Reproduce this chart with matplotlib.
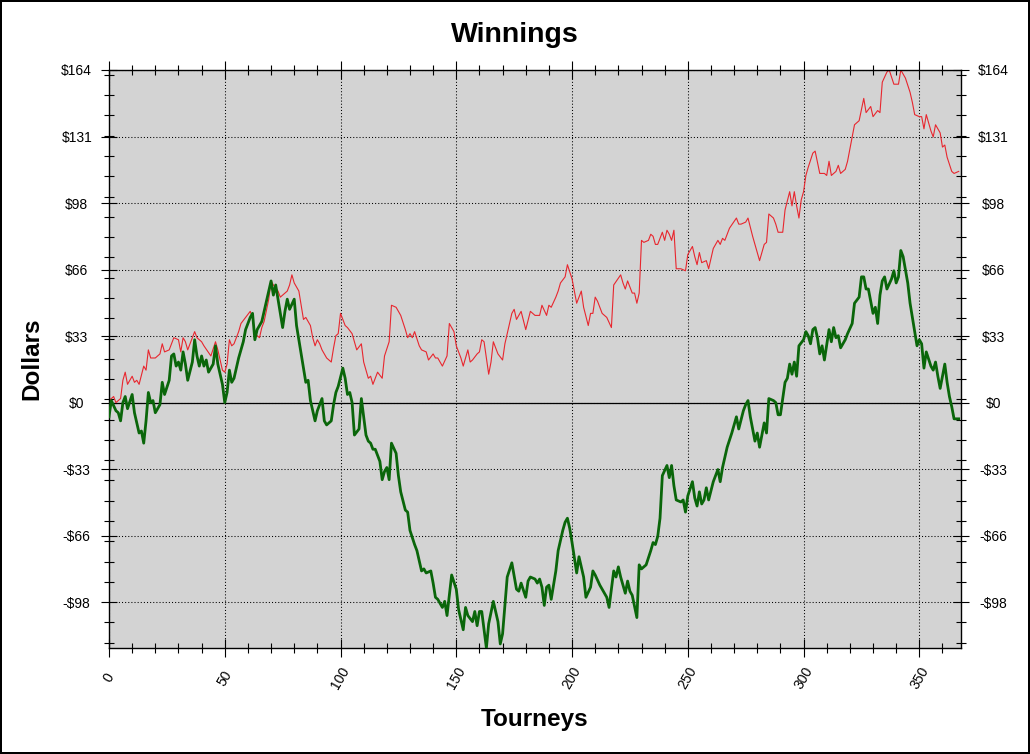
#トーナメントごとの累積収支グラフ
import numpy as np
import matplotlib
matplotlib.use("Agg")
import matplotlib.pyplot as plt
from matplotlib.ticker import MultipleLocator, FixedLocator, FuncFormatter

plt.rcParams['font.family'] = ['Liberation Sans', 'DejaVu Sans']

# 赤の系列(細線)
red_t = [0, 2, 3, 5, 6, 7, 8, 9, 10, 11, 12, 13, 15, 16, 17, 18, 20, 22, 23, 24,
         26, 27, 28, 30, 31, 32, 33, 34, 35, 37, 38, 40, 41, 44, 46, 47, 49, 50,
         51, 52, 53, 54, 56, 57, 59, 61, 62, 63, 65, 66, 67, 69, 70, 71, 73, 74, 77, 78,
         79, 80, 82, 83, 84, 85, 87, 88, 89, 90, 91, 92, 94, 96, 97, 98, 99, 100, 102,
         103, 105, 107, 109, 110, 112, 113, 114, 116, 118, 119, 121, 122, 124, 126,
         128, 129, 130, 131, 132, 134, 135, 137, 138, 140, 141, 142, 144, 146, 147,
         149, 150, 152, 153, 155, 156, 157, 159, 160, 161, 162, 164, 165, 166, 168,
         170, 171, 174, 175, 176, 178, 180, 182, 184, 186, 187, 189, 190, 191, 193,
         194, 195, 197, 198, 200, 202, 204, 205, 207, 208, 209, 210, 211, 213, 215,
         217, 218, 221, 222, 223, 224, 226, 227, 228, 229,
         230, 231, 233, 234, 235, 236, 237, 239, 240, 241, 242, 243, 244, 245, 247,
         249, 250, 252, 253, 254, 255, 256, 258, 259, 261, 263, 264, 265, 266, 268,
         271, 272, 273, 275, 276, 278, 280, 281, 283, 284, 285, 287, 288, 289, 291,
         292, 294, 295, 296, 297, 298, 299, 300, 301, 302, 304, 305, 307, 309, 310,
         311, 312, 314, 315, 316, 318, 319, 321, 322, 324, 326, 327, 329, 330, 332,
         333, 334, 336, 337, 339, 341, 342, 344, 346, 347, 348, 350, 351, 352, 353,
         355, 356, 357, 359, 360, 361, 362, 364, 365, 367]
red_v = [1, 3, 0, 2, 11, 15, 9, 11, 13, 10, 11, 9, 18, 16, 26, 22, 22, 24, 29, 25,
         26, 29, 32, 31, 25, 32, 30, 26, 29, 35, 32, 30, 28, 23, 30, 26, 16, 15,
         19, 31, 28, 29, 35, 39, 42, 45, 42, 34, 32, 37, 40, 51, 60, 58, 55, 52, 55, 58,
         63, 59, 55, 48, 41, 42, 38, 32, 28, 31, 29, 26, 22, 20, 27, 33, 34, 44, 38,
         37, 34, 26, 29, 20, 12, 13, 9, 15, 12, 23, 30, 48, 47, 43,
         36, 32, 34, 32, 35, 28, 26, 25, 21, 24, 22, 22, 18, 23, 39,
         35, 28, 22, 18, 26, 20, 21, 24, 25, 31, 30, 14, 20, 30, 24,
         21, 29, 44, 46, 41, 45, 36, 45, 43, 43, 48, 43, 48, 47, 52,
         55, 59, 62, 68, 61, 49, 55, 47, 38, 44, 44, 52, 50, 44, 42,
         37, 58, 63, 59, 56, 60, 54, 54, 49, 54,
         80, 79, 80, 83, 82, 78, 78, 84, 80, 85, 83, 80, 85, 66, 66,
         65, 73, 77, 72, 68, 74, 69, 70, 66, 76, 80, 78, 81, 80, 86,
         91, 88, 88, 89, 91, 82, 74, 70, 78, 79, 93, 91, 88, 84, 84,
         95, 104, 97, 104, 97, 91, 100, 104, 112, 116, 123, 124, 113, 113, 112,
         119, 112, 114, 117, 113, 115, 119, 131, 137, 139, 150, 143, 146, 141, 144,
         143, 158, 163, 164, 157, 157, 164, 160, 153, 148, 142, 141, 141, 135, 142,
         134, 131, 137, 133, 126, 127, 121, 114, 113, 114]

# 緑の系列(太線)
green_t = [0, 1, 3, 4, 5, 6, 7, 8, 10, 11, 13, 14, 15, 16, 17, 18, 19, 20, 22, 23,
           24, 26, 27, 28, 29, 30, 31, 32, 33, 34, 36, 37, 38, 39, 40, 41, 42, 43, 45, 46,
           47, 49, 50, 51, 52,
           53, 54, 55, 56, 58, 59, 61, 62, 63, 64, 66, 68, 70, 71, 72, 73, 75, 76, 77, 78,
           80, 81, 83, 85, 86, 87, 88, 89, 90, 92, 93, 94, 96, 97, 98, 99, 101, 102, 103,
           104, 105, 106, 108, 109, 110, 111, 112, 113, 114, 115, 116, 117, 118, 119,
           120, 121, 122, 124, 125, 126, 128, 129, 130, 132, 133, 134, 135, 136, 137,
           139, 140, 141, 142, 144, 145, 146, 148, 150, 151, 153, 154, 155, 157, 158,
           159, 160, 161, 162, 163, 164, 166, 168, 169, 170, 172, 174, 176, 177, 178,
           180, 181, 182, 184, 185, 186, 187, 188, 189, 190, 191, 193, 194, 196, 197,
           198, 199, 200, 202, 203, 205, 206, 208, 209, 210, 212, 213, 215, 216, 218,
           219, 220, 221, 223, 224, 225, 226, 228, 229, 230, 232, 234, 235, 236, 237,
           238, 239, 241,
           242, 243, 244, 245, 247, 248, 249, 250, 252, 253, 254, 255, 256, 257, 258,
           259, 261, 263, 264, 265, 267, 269, 271, 272, 274, 275, 276, 277, 279, 280,
           281, 283, 284, 285, 287, 288, 289, 290, 292, 293, 294, 295, 296, 297, 298,
           300, 301, 302, 303, 304, 305, 306, 307, 308, 309, 311, 312, 313, 314, 315,
           316, 318, 319, 321, 322, 324, 325, 326, 327, 328, 330, 331, 332, 333, 334,
           335, 336, 338, 339, 340, 341, 342, 343, 345, 346, 347, 349, 350, 351, 352,
           353, 355, 356, 357, 358, 359, 361, 362, 363, 364, 365, 367]
green_v = [-7, 1, -4, -5, -9, 0, 3, -3, 4, -5, -15, -14, -20, -9, 5, 0, 1, -5, -1, 10,
           4, 11, 23, 24, 18, 20, 16, 25, 19, 11, 20, 31, 23, 18, 23, 18, 21, 15, 19, 28,
           19, 9, 0, 5, 16,
           10, 12, 17, 22, 30, 36, 42, 44, 31, 36, 40, 50, 60, 53, 58, 51, 37, 45, 51, 46,
           51, 38, 24, 10, 11, 1, -4, -9, -4, 2, -9, -11, -9, -1, 5, 8, 17, 12, 4,
           5, 0, -16, -13, 2, -7, -16, -19, -20, -23, -23, -26, -29, -38, -34,
           -32, -38, -20, -25, -36, -44, -53, -54, -63, -70, -73, -78, -83, -82, -84,
           -83, -89, -96, -97, -101, -98, -105, -85, -92, -102, -112, -101, -105, -108, -103,
           -110, -103, -103, -112, -121, -109, -98, -108, -119, -114, -86, -79, -92, -93, -89,
           -96, -88, -86, -87, -89, -87, -91, -100, -91, -90, -97, -83, -73, -63, -59,
           -57, -62, -69, -84, -76, -86, -96, -91, -83, -85, -90, -92, -96, -101, -83,
           -86, -81, -86, -94, -88, -93, -95, -106, -80, -82, -80, -73, -69, -70, -66,
           -57, -36, -31,
           -37, -31, -41, -48, -49, -48, -54, -46, -39, -47, -51, -44, -50, -48, -42,
           -48, -39, -33, -39, -32, -22, -15, -7, -13, -4, -1, 1, -7, -19, -15,
           -22, -10, -15, 2, 1, 0, -6, -6, 10, 12, 19, 14, 20, 13, 28,
           31, 35, 33, 29, 36, 37, 32, 24, 28, 21, 36, 30, 37, 32, 33,
           27, 31, 34, 39, 49, 52, 62, 62, 56, 56, 44, 47, 39, 53, 60,
           62, 56, 61, 65, 59, 62, 75, 72, 59, 49, 42, 28, 31, 29, 17,
           25, 18, 16, 20, 13, 7, 19, 10, 3, -2, -8, -8]

fig = plt.figure(figsize=(10.3, 7.54), dpi=100)
fig.patch.set_facecolor("white")
fig.patch.set_edgecolor("black")
fig.patch.set_linewidth(1.5)

ax = fig.add_axes([109/1030, 1-648/754, 852/1030, 578/754])
ax.set_facecolor("#d3d3d3")

ax.axhline(0, color="black", linewidth=0.9, zorder=1.5)
ax.plot(red_t, red_v, color="#e8262e", linewidth=0.8, zorder=2)
ax.plot(green_t, green_v, color="#0a660a", linewidth=2.0, zorder=3)

ax.set_xlim(0, 368)
ax.set_ylim(-121, 164)

#目盛りの設定
ax.xaxis.set_major_locator(MultipleLocator(50))
ax.xaxis.set_minor_locator(MultipleLocator(10))
ax.yaxis.set_major_locator(MultipleLocator(32.8))
ax.yaxis.set_minor_locator(FixedLocator(np.arange(-118.4, 164, 10)))

def dollar(v, pos):
    v = int(round(v))
    if v < 0:
        return f"-${-v}"
    return f"${v}"

ax.yaxis.set_major_formatter(FuncFormatter(dollar))

ax.tick_params(axis="both", which="both", direction="inout", width=0.8,
               top=True, right=True, colors="black")
ax.tick_params(axis="x", which="major", length=13, pad=15, labelsize=10, labelrotation=60)
ax.tick_params(axis="y", which="major", length=11.5, pad=17.5, labelsize=10, labelright=True)
ax.tick_params(axis="both", which="minor", length=6.5)

for tk in ax.xaxis.get_major_ticks():
    tk.label1.set_ha("center")
    tk.label1.set_va("center")
for tk in ax.yaxis.get_major_ticks():
    tk.label1.set_ha("center")
    tk.label2.set_ha("center")

ax.grid(True, which="major", color="black", linestyle=(0, (1, 2)), linewidth=0.75)

for s in ax.spines.values():
    s.set_linewidth(1.0)
    s.set_color("black")

ax.set_xlabel("Tourneys", fontsize=17.5, fontweight="bold")
ax.set_ylabel("Dollars", fontsize=17.5, fontweight="bold")
ax.xaxis.label.set_va("center")
ax.yaxis.label.set_va("center")
ax.xaxis.set_label_coords(0.5, -0.124)
ax.yaxis.set_label_coords(-0.0904, 0.5)

fig.text(0.5, 1-35/754, "Winnings", ha="center", va="center",
         fontsize=20.5, fontweight="bold")

fig.savefig("out.png", dpi=100)
